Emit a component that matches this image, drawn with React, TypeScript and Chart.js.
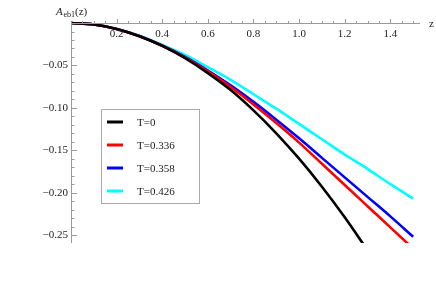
import React, { useEffect, useRef } from "react";
import { Chart, registerables } from "chart.js";

Chart.register(...registerables);

const zValues = [0, 0.1, 0.2, 0.3, 0.4, 0.5, 0.6, 0.7, 0.8, 0.9, 1.0, 1.1, 1.2, 1.3, 1.4, 1.5];
const seriesT0 = [0, -0.0017, -0.007, -0.0155, -0.027, -0.0415, -0.059, -0.079, -0.103, -0.13, -0.16, -0.193, -0.229, -0.268];
const seriesT336 = [0, -0.0017, -0.007, -0.0155, -0.0268, -0.0405, -0.057, -0.0755, -0.096, -0.118, -0.141, -0.166, -0.191, -0.216, -0.241, -0.266];
const seriesT358 = [0, -0.0017, -0.007, -0.0153, -0.0265, -0.04, -0.056, -0.0735, -0.093, -0.114, -0.136, -0.159, -0.182, -0.205, -0.228, -0.252];
const seriesT426 = [0, -0.0017, -0.007, -0.015, -0.0258, -0.0375, -0.052, -0.067, -0.084, -0.101, -0.119, -0.137, -0.155, -0.172, -0.19, -0.207];
const seriesLabels = ["T=0", "T=0.336", "T=0.358", "T=0.426"];
const seriesColors = ["#000000", "#ff0000", "#0000ff", "#00ffff"];
const xMajorTicks = [0.2, 0.4, 0.6, 0.8, 1.0, 1.2, 1.4];
const yMajorTicks = [-0.05, -0.1, -0.15, -0.2, -0.25];

const FONT = '"Liberation Serif", "DejaVu Serif", serif';

const axesPlugin = {
  id: "mathAxes",
  afterDatasetsDraw(chart: any) {
    const ctx = chart.ctx;
    const xs = chart.scales.x;
    const ys = chart.scales.y;
    const x0 = xs.getPixelForValue(0);
    const y0 = ys.getPixelForValue(0);
    const xEnd = xs.getPixelForValue(xs.max);
    const yEnd = ys.getPixelForValue(ys.min);
    ctx.save();
    ctx.strokeStyle = "#9a9a9a";
    ctx.lineWidth = 1;
    ctx.beginPath();
    ctx.moveTo(x0, Math.round(y0) + 0.5);
    ctx.lineTo(xEnd, Math.round(y0) + 0.5);
    ctx.moveTo(Math.round(x0) + 0.5, y0 - 1);
    ctx.lineTo(Math.round(x0) + 0.5, yEnd);
    ctx.stroke();
    ctx.beginPath();
    for (let i = 1; i * 0.05 <= xs.max + 1e-9; i++) {
      const v = i * 0.05;
      const px = Math.round(xs.getPixelForValue(v)) + 0.5;
      const major = i % 4 === 0;
      const len = major ? 4 : 2;
      ctx.moveTo(px, Math.round(y0));
      ctx.lineTo(px, Math.round(y0) - len);
    }
    for (let i = 1; -i * 0.01 >= ys.min - 1e-9; i++) {
      const v = -i * 0.01;
      const py = Math.round(ys.getPixelForValue(v)) + 0.5;
      const major = i % 5 === 0;
      const len = major ? 5 : 2.5;
      ctx.moveTo(Math.round(x0) + 1, py);
      ctx.lineTo(Math.round(x0) + 1 + len, py);
    }
    ctx.stroke();
    ctx.fillStyle = "#222";
    ctx.font = "11px " + FONT;
    ctx.textAlign = "center";
    ctx.textBaseline = "middle";
    for (const v of xMajorTicks) {
      ctx.fillText(v.toFixed(1), xs.getPixelForValue(v), y0 + 11);
    }
    ctx.textAlign = "right";
    for (const v of yMajorTicks) {
      ctx.fillText("\u2212" + Math.abs(v).toFixed(2), x0 - 3, ys.getPixelForValue(v));
    }
    ctx.textAlign = "left";
    ctx.fillText("z", 429, y0 + 1);
    ctx.font = "italic 11px " + FONT;
    ctx.fillText("A", 56, 12);
    ctx.font = "8px " + FONT;
    ctx.fillText("eb1", 63.5, 15);
    ctx.font = "11px " + FONT;
    ctx.fillText("(z)", 75, 12);
    ctx.strokeStyle = "#aaaaaa";
    ctx.lineWidth = 1;
    ctx.fillStyle = "#ffffff";
    ctx.fillRect(101.5, 109.5, 98, 94);
    ctx.strokeRect(101.5, 109.5, 98, 94);
    const rows = [122, 145, 168, 191];
    seriesLabels.forEach((lab, i) => {
      ctx.strokeStyle = seriesColors[i];
      ctx.lineWidth = 3;
      ctx.beginPath();
      ctx.moveTo(107, rows[i]);
      ctx.lineTo(123, rows[i]);
      ctx.stroke();
      ctx.fillStyle = "#222";
      ctx.font = "11px " + FONT;
      ctx.textAlign = "left";
      ctx.fillText(lab, 137, rows[i] + 1);
    });
    ctx.restore();
  },
};

function toPoints(arr: number[]) {
  return arr.map((y, i) => ({ x: zValues[i], y }));
}

export default function App() {
  const ref = useRef<HTMLCanvasElement>(null);
  useEffect(() => {
    if (!ref.current) return;
    const all = [seriesT0, seriesT336, seriesT358, seriesT426];
    const chart = new Chart(ref.current, {
      type: "line",
      data: {
        datasets: all.map((arr, i) => ({
          label: seriesLabels[i],
          data: toPoints(arr),
          borderColor: seriesColors[i],
          borderWidth: 2.6,
          pointRadius: 0,
          fill: false,
          cubicInterpolationMode: "monotone" as const,
        })),
      },
      options: {
        animation: false,
        responsive: false,
        maintainAspectRatio: false,
        layout: { padding: { left: 71, right: 16, top: 21, bottom: 54 } },
        plugins: { legend: { display: false }, tooltip: { enabled: false } },
        scales: {
          x: { type: "linear", min: 0, max: 1.53, display: false },
          y: { type: "linear", min: -0.2594, max: 0.0024, display: false },
        },
      },
      plugins: [axesPlugin],
    });
    return () => chart.destroy();
  }, []);
  return (
    <div style={{ position: "absolute", left: 0, top: 0, width: 436, height: 297, background: "#fff" }}>
      <canvas ref={ref} width={436} height={297} style={{ width: 436, height: 297 }} />
    </div>
  );
}
